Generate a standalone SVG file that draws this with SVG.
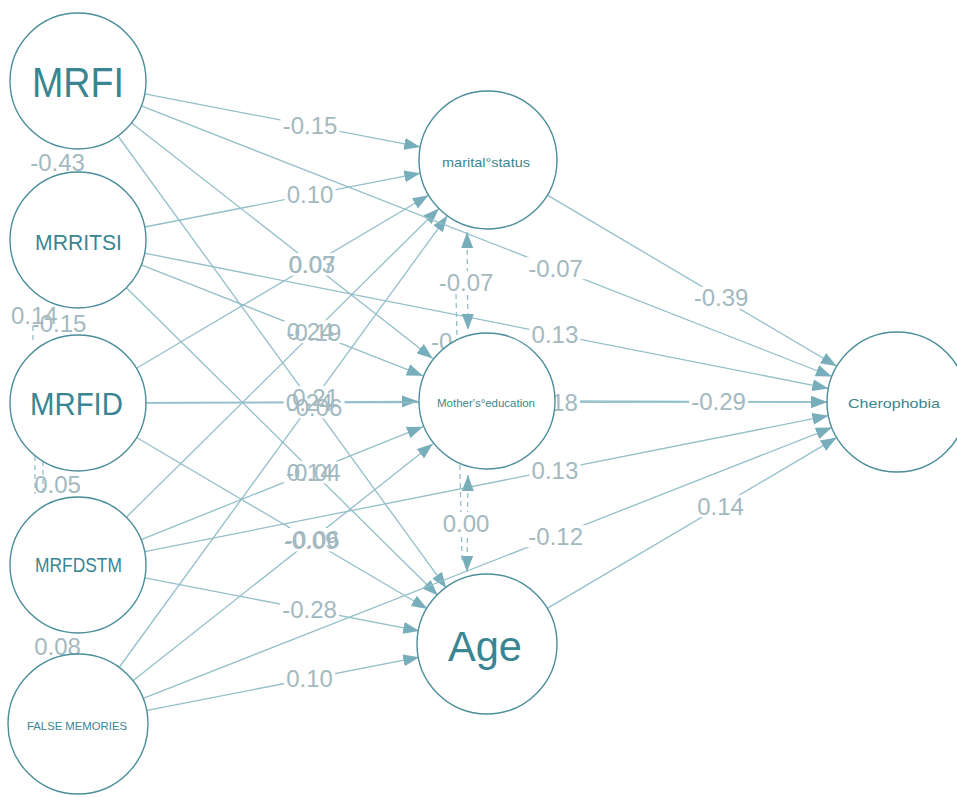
<svg xmlns="http://www.w3.org/2000/svg" width="957" height="797" viewBox="0 0 957 797">
<style>
.edge{stroke:#93bfca;stroke-width:1.3;fill:none;marker-end:url(#ah)}
.cov{stroke:#93bfca;stroke-width:1.3;fill:none;stroke-dasharray:5 4}
.bi{marker-start:url(#ah2);marker-end:url(#ah2)}
.el{font-family:"Liberation Sans",Arial,sans-serif;font-size:24px;fill:#a3b9c0;text-anchor:middle}
.node circle{fill:#fff;stroke:#4b8e9a;stroke-width:1.4}
.nl{font-family:"Liberation Sans",Arial,sans-serif;fill:#3a8592;text-anchor:middle}
.m{fill:#000}
</style>
<defs>
<marker id="ah" markerUnits="userSpaceOnUse" markerWidth="16" markerHeight="12" refX="16" refY="6" orient="auto"><path d="M0,0 L16,6 L0,12 z" fill="#78aebb"/></marker>
<marker id="ah2" markerUnits="userSpaceOnUse" markerWidth="16" markerHeight="12" refX="16" refY="6" orient="auto-start-reverse"><path d="M0,0 L16,6 L0,12 z" fill="#78aebb"/></marker>
<mask id="lm" maskUnits="userSpaceOnUse" x="0" y="0" width="957" height="797">
<rect width="957" height="797" fill="#fff"/>
<rect class="m" x="280.5" y="114.7" width="59" height="22"/>
<rect class="m" x="284.6" y="183.7" width="51" height="22"/>
<rect class="m" x="286.3" y="253.4" width="51" height="22"/>
<rect class="m" x="284.4" y="321" width="59" height="22"/>
<rect class="m" x="290.1" y="386.1" width="51" height="22"/>
<rect class="m" x="286.8" y="253.3" width="51" height="22"/>
<rect class="m" x="284.7" y="320.4" width="51" height="22"/>
<rect class="m" x="283.7" y="390.9" width="51" height="22"/>
<rect class="m" x="284.7" y="460.9" width="51" height="22"/>
<rect class="m" x="282.8" y="528" width="59" height="22"/>
<rect class="m" x="285.5" y="396.3" width="59" height="22"/>
<rect class="m" x="283.8" y="461.4" width="59" height="22"/>
<rect class="m" x="281.6" y="529.4" width="59" height="22"/>
<rect class="m" x="280" y="598.7" width="59" height="22"/>
<rect class="m" x="284" y="667.7" width="51" height="22"/>
<rect class="m" x="526.1" y="257.2" width="59" height="22"/>
<rect class="m" x="529.4" y="323.3" width="51" height="22"/>
<rect class="m" x="529.1" y="391.4" width="51" height="22"/>
<rect class="m" x="529.4" y="459.1" width="51" height="22"/>
<rect class="m" x="526.2" y="525.2" width="59" height="22"/>
<rect class="m" x="691.5" y="286.8" width="59" height="22"/>
<rect class="m" x="689.1" y="390.6" width="59" height="22"/>
<rect class="m" x="695.1" y="495.1" width="51" height="22"/>
<rect class="m" x="436.5" y="271" width="59" height="22"/>
<rect class="m" x="440.5" y="512" width="51" height="22"/>
</mask>
</defs>
<rect width="957" height="797" fill="#fff"/>
<g id="connectors" mask="url(#lm)">
<line class="edge" x1="144.8" y1="93.9" x2="420.2" y2="146.9"/>
<line class="edge" x1="144.7" y1="227.0" x2="420.3" y2="173.2"/>
<line class="edge" x1="136.5" y1="368.3" x2="428.6" y2="195.2"/>
<line class="edge" x1="126.4" y1="517.2" x2="438.9" y2="208.5"/>
<line class="edge" x1="118.0" y1="669.0" x2="447.4" y2="215.8"/>
<line class="edge" x1="131.6" y1="122.9" x2="432.7" y2="358.5"/>
<line class="edge" x1="141.3" y1="264.9" x2="422.8" y2="375.7"/>
<line class="edge" x1="146" y1="402.7" x2="418" y2="401.3"/>
<line class="edge" x1="141.1" y1="539.7" x2="423.0" y2="426.7"/>
<line class="edge" x1="131.4" y1="681.9" x2="432.9" y2="443.8"/>
<line class="edge" x1="118.0" y1="136.0" x2="446.4" y2="588.2"/>
<line class="edge" x1="126.4" y1="287.8" x2="437.9" y2="595.5"/>
<line class="edge" x1="136.6" y1="437.5" x2="427.5" y2="609.0"/>
<line class="edge" x1="144.8" y1="577.9" x2="419.3" y2="630.9"/>
<line class="edge" x1="144.7" y1="710.9" x2="419.3" y2="657.2"/>
<line class="edge" x1="141.3" y1="105.8" x2="831.8" y2="376.5"/>
<line class="edge" x1="144.7" y1="253.2" x2="828.3" y2="388.4"/>
<line class="edge" x1="146" y1="403" x2="827" y2="402"/>
<line class="edge" x1="144.7" y1="551.7" x2="828.4" y2="415.7"/>
<line class="edge" x1="141.3" y1="699.1" x2="831.9" y2="427.6"/>
<line class="edge" x1="547.4" y1="195.1" x2="836.8" y2="366.3"/>
<line class="edge" x1="556" y1="401" x2="827" y2="402"/>
<line class="edge" x1="546.4" y1="608.9" x2="836.7" y2="437.6"/>
<line class="cov bi" x1="467" y1="232" x2="468" y2="330"/>
<line class="cov bi" x1="468" y1="475" x2="467" y2="572"/>
<line class="cov" x1="456" y1="294" x2="462" y2="560"/>
<line class="cov" x1="33" y1="326" x2="33" y2="343"/>
<line class="cov" x1="35" y1="456" x2="35" y2="494"/>
<line class="cov" x1="43" y1="461" x2="43" y2="494"/>
</g>
<g id="edge-labels">
<text class="el" x="310.0" y="134.3">-0.15</text>
<text class="el" x="310.1" y="203.3">0.10</text>
<text class="el" x="311.8" y="273.0">0.03</text>
<text class="el" x="313.9" y="340.6">-0.19</text>
<text class="el" x="315.6" y="405.7">0.21</text>
<text class="el" x="312.3" y="272.9">0.07</text>
<text class="el" x="310.2" y="340.0">0.24</text>
<text class="el" x="309.2" y="410.5">0.24</text>
<text class="el" x="310.2" y="480.5">0.14</text>
<text class="el" x="312.3" y="547.6">-0.06</text>
<text class="el" x="315.0" y="415.9">-0.06</text>
<text class="el" x="313.3" y="481.0">-0.04</text>
<text class="el" x="311.1" y="549.0">-0.09</text>
<text class="el" x="309.5" y="618.3">-0.28</text>
<text class="el" x="309.5" y="687.3">0.10</text>
<text class="el" x="555.6" y="276.8">-0.07</text>
<text class="el" x="554.9" y="342.9">0.13</text>
<text class="el" x="554.6" y="411.0">0.18</text>
<text class="el" x="554.9" y="478.7">0.13</text>
<text class="el" x="555.7" y="544.8">-0.12</text>
<text class="el" x="721.0" y="306.4">-0.39</text>
<text class="el" x="718.6" y="410.2">-0.29</text>
<text class="el" x="720.6" y="514.7">0.14</text>
<text class="el" x="466" y="290.6">-0.07</text>
<text class="el" x="466" y="531.6">0.00</text>
<text class="el" x="431" y="350" style="text-anchor:start">-0</text>
<text class="el" x="57.5" y="171">-0.43</text>
<text class="el" x="11" y="324" style="text-anchor:start">0.14</text>
<text class="el" x="59" y="332">-0.15</text>
<text class="el" x="57.5" y="493">0.05</text>
<text class="el" x="57.5" y="655">0.08</text>
</g>
<g id="node-MRFI" class="node"><circle cx="78" cy="81" r="68"/><text class="nl" x="78" y="97" font-size="42" textLength="92" lengthAdjust="spacingAndGlyphs">MRFI</text></g>
<g id="node-MRRITSI" class="node"><circle cx="78" cy="240" r="68"/><text class="nl" x="78.5" y="250" font-size="22" textLength="87" lengthAdjust="spacingAndGlyphs">MRRITSI</text></g>
<g id="node-MRFID" class="node"><circle cx="78" cy="403" r="68"/><text class="nl" x="76.5" y="415" font-size="31" textLength="93" lengthAdjust="spacingAndGlyphs">MRFID</text></g>
<g id="node-MRFDSTM" class="node"><circle cx="78" cy="565" r="68"/><text class="nl" x="78.5" y="572" font-size="20.5" textLength="87" lengthAdjust="spacingAndGlyphs">MRFDSTM</text></g>
<g id="node-FALSE-MEMORIES" class="node"><circle cx="78" cy="724" r="70"/><text class="nl" x="77" y="730" font-size="11.5" textLength="100" lengthAdjust="spacingAndGlyphs">FALSE MEMORIES</text></g>
<g id="node-marital-status" class="node"><circle cx="488" cy="160" r="69"/><text class="nl" x="486" y="167" font-size="13" textLength="88" lengthAdjust="spacingAndGlyphs">marital°status</text></g>
<g id="node-mothers-education" class="node"><circle cx="487" cy="401" r="68"/><text class="nl" x="486" y="407" font-size="11" textLength="98" lengthAdjust="spacingAndGlyphs">Mother's°education</text></g>
<g id="node-Age" class="node"><circle cx="487" cy="644" r="70"/><text class="nl" x="485" y="661" font-size="42" textLength="74" lengthAdjust="spacingAndGlyphs">Age</text></g>
<g id="node-Cherophobia" class="node"><circle cx="897" cy="402" r="70"/><text class="nl" x="894" y="408" font-size="13" textLength="92" lengthAdjust="spacingAndGlyphs">Cherophobia</text></g>
</svg>
